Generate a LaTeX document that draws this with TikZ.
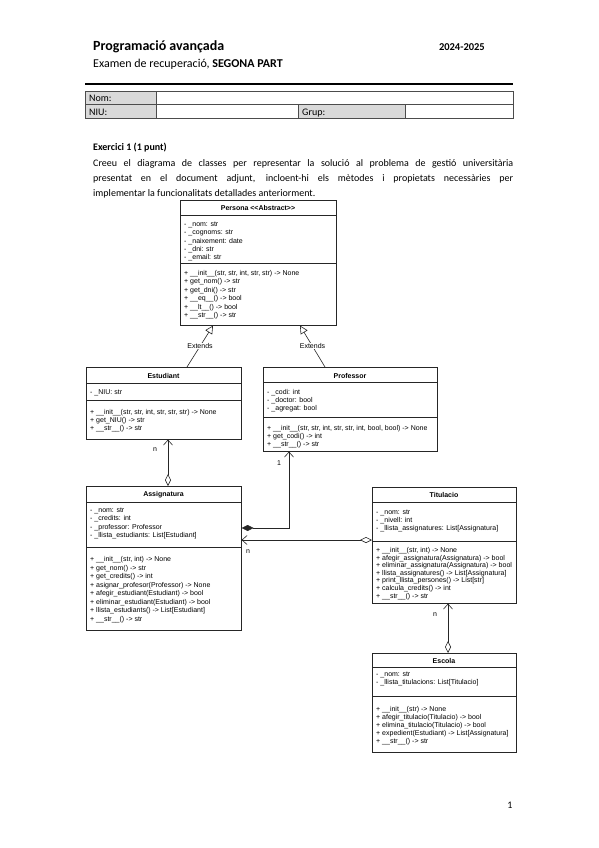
\documentclass[tikz,border=0pt]{standalone}
\usepackage{fontspec}
\setmainfont{Carlito}
\newfontfamily\umlfamily{Liberation Sans}
\usetikzlibrary{arrows.meta}
\newcommand\umlf{\umlfamily\fontsize{7}{8}\selectfont}
\newcommand\umlrows[5]{%
  \foreach \t [count=\i] in {#5} {\node[row] (#1-\i) at (#2,{#3+#4*(\i-1)}) {\t};}}
\tikzset{
  box/.style={draw=black!85, line width=0.6pt, inner sep=0pt, anchor=north west},
  row/.style={anchor=base west, inner sep=0pt, font=\umlf},
  ttl/.style={anchor=base, inner sep=0pt, font=\umlf\bfseries},
  sepline/.style={draw=black!85, line width=0.6pt},
  conn/.style={draw=black!85, line width=0.6pt},
  ext/.style={conn, -{Triangle[open,length=8pt,width=8pt,line width=0.6pt]}},
  odia/.style={conn, {Diamond[open,length=12pt,width=6pt,line width=0.6pt]}-{Straight Barb[length=5pt,width=9pt,line width=0.6pt]}},
  fdia/.style={conn, {Diamond[length=12pt,width=6pt]}-{Straight Barb[length=5pt,width=9pt,line width=0.6pt]}},
  lbl/.style={inner sep=0.5pt, font=\umlf},
  cell/.style={draw=black!70, line width=0.5pt, inner sep=0pt, anchor=north west},
  celltxt/.style={anchor=base west, inner sep=0pt, font=\fontsize{10}{12}\selectfont},
}
\begin{document}
\begin{tikzpicture}[x=1pt,y=-1pt]
\path[fill=white] (0,0) rectangle (599,848);
\useasboundingbox (0,0) rectangle (599,848);

% header
\node[anchor=base west, inner sep=0pt, font=\fontsize{14}{16}\selectfont\bfseries] (title) at (93,51) {Programació avançada};
\node[anchor=base east, inner sep=0pt, font=\fontsize{10.5}{12}\selectfont\bfseries] (year) at (485,51) {2024-2025};
\node[anchor=base west, inner sep=0pt, font=\fontsize{12}{14}\selectfont] (subtitle) at (93,68) {Examen de recuperació, \textbf{SEGONA PART}};
\draw[line width=2.6pt] (85,84) coordinate (hl1) -- (513,84) coordinate (hl2);

% table
\node[cell, fill=black!15, minimum width=71pt, minimum height=13.5pt] (c11) at (85,91) {};
\node[cell, minimum width=357pt, minimum height=13.5pt] (c12) at (156,91) {};
\node[cell, fill=black!15, minimum width=71pt, minimum height=13.5pt] (c21) at (85,104.5) {};
\node[cell, minimum width=142pt, minimum height=13.5pt] (c22) at (156,104.5) {};
\node[cell, fill=black!15, minimum width=107pt, minimum height=13.5pt] (c23) at (298,104.5) {};
\node[cell, minimum width=108pt, minimum height=13.5pt] (c24) at (405,104.5) {};
\node[celltxt] (tnom) at (89,102) {Nom:};
\node[celltxt] (tniu) at (89,115.5) {NIU:};
\node[celltxt] (tgrup) at (302,115.5) {Grup:};

% exercise text
\node[anchor=base west, inner sep=0pt, font=\fontsize{10}{12}\selectfont\bfseries] (ex) at (93,150) {Exercici 1 (1 punt)};
\node[anchor=base west, inner sep=0pt, text width=420pt, align=justify, font=\fontsize{10}{15}\selectfont] (para) at (93,166)
 {\hyphenpenalty=10000 \exhyphenpenalty=10000 \tolerance=9999
 Creeu el diagrama de classes per representar la solució al problema de gestió universitària\linebreak
 presentat en el document adjunt, incloent-hi els mètodes i propietats necessàries per\linebreak
 implementar la funcionalitats detallades anteriorment.};

% ---------- Persona
\node[box, minimum width=156pt, minimum height=125pt] (persona) at (180,200) {};
\node[ttl] (persona-t) at (258,210) {Persona <\kern0pt<Abstract>\kern0pt>};
\draw[sepline] ([yshift=-15pt]persona.north west) -- ([yshift=-15pt]persona.north east);
\draw[sepline] ([yshift=-63pt]persona.north west) -- ([yshift=-63pt]persona.north east);
\umlrows{pa}{184}{226.5}{8.25}{{- \_nom: str},{- \_cognoms: str},{- \_naixement: date},{- \_dni: str},{- \_email: str}}
\umlrows{pm}{184}{275.5}{8.4}{{+ \_\_init\_\_(str, str, int, str, str) -> None},{+ get\_nom() -> str},{+ get\_dni() -> str},{+ \_\_eq\_\_() -> bool},{+ \_\_lt\_\_() -> bool},{+ \_\_str\_\_() -> str}}

% ---------- Estudiant
\node[box, minimum width=155pt, minimum height=72pt] (estudiant) at (86,367) {};
\node[ttl] (estudiant-t) at (163.5,378.5) {Estudiant};
\draw[sepline] ([yshift=-16pt]estudiant.north west) -- ([yshift=-16pt]estudiant.north east);
\draw[sepline] ([yshift=-33pt]estudiant.north west) -- ([yshift=-33pt]estudiant.north east);
\umlrows{ea}{90}{394.5}{8.2}{{- \_NIU: str}}
\umlrows{em}{90}{414.5}{8.2}{{+ \_\_init\_\_(str, str, int, str, str, str) -> None},{+ get\_NIU() -> str},{+ \_\_str\_\_() -> str}}

% ---------- Professor
\node[box, minimum width=174pt, minimum height=84pt] (professor) at (263,367) {};
\node[ttl] (professor-t) at (350,378) {Professor};
\draw[sepline] ([yshift=-15pt]professor.north west) -- ([yshift=-15pt]professor.north east);
\draw[sepline] ([yshift=-50pt]professor.north west) -- ([yshift=-50pt]professor.north east);
\umlrows{pra}{267}{394.5}{8}{{- \_codi: int},{- \_doctor: bool},{- \_agregat: bool}}
\umlrows{prm}{267}{430.5}{8}{{+ \_\_init\_\_(str, str, int, str, str, int, bool, bool) -> None},{+ get\_codi() -> int},{+ \_\_str\_\_() -> str}}

% ---------- Assignatura
\node[box, minimum width=155pt, minimum height=144pt] (assig) at (86,486) {};
\node[ttl] (assig-t) at (163.5,496.5) {Assignatura};
\draw[sepline] ([yshift=-16pt]assig.north west) -- ([yshift=-16pt]assig.north east);
\draw[sepline] ([yshift=-61pt]assig.north west) -- ([yshift=-61pt]assig.north east);
\umlrows{aa}{90}{512.5}{8.4}{{- \_nom: str},{- \_credits: int},{- \_professor: Professor},{- \_llista\_estudiants: List[Estudiant]}}
\umlrows{am}{90}{561.5}{8.57}{{+ \_\_init\_\_(str, int) -> None},{+ get\_nom() -> str},{+ get\_credits() -> int},{+ asignar\_profesor(Professor) -> None},{+ afegir\_estudiant(Estudiant) -> bool},{+ eliminar\_estudiant(Estudiant) -> bool},{+ llista\_estudiants() -> List[Estudiant]},{+ \_\_str\_\_() -> str}}

% ---------- Titulacio
\node[box, minimum width=144pt, minimum height=116pt] (titul) at (372,487) {};
\node[ttl] (titul-t) at (444,497.5) {Titulacio};
\draw[sepline] ([yshift=-15pt]titul.north west) -- ([yshift=-15pt]titul.north east);
\draw[sepline] ([yshift=-54pt]titul.north west) -- ([yshift=-54pt]titul.north east);
\umlrows{ta}{376}{514.5}{8}{{- \_nom: str},{- \_nivell: int},{- \_llista\_assignatures: List[Assignatura]}}
\umlrows{tm}{376}{552.5}{7.6}{{+ \_\_init\_\_(str, int) -> None},{+ afegir\_assignatura(Assignatura) -> bool},{+ eliminar\_assignatura(Assignatura) -> bool},{+ llista\_assignatures() -> List[Assignatura]},{+ print\_llista\_persones() -> List[str]},{+ calcula\_credits() -> int},{+ \_\_str\_\_() -> str}}

% ---------- Escola
\node[box, minimum width=144pt, minimum height=99pt] (escola) at (372,653) {};
\node[ttl] (escola-t) at (444,663.5) {Escola};
\draw[sepline] ([yshift=-14pt]escola.north west) -- ([yshift=-14pt]escola.north east);
\draw[sepline] ([yshift=-43pt]escola.north west) -- ([yshift=-43pt]escola.north east);
\umlrows{sa}{376}{676.5}{8}{{- \_nom: str},{- \_llista\_titulacions: List[Titulacio]}}
\umlrows{sm}{376}{711.5}{8}{{+ \_\_init\_\_(str) -> None},{+ afegir\_titulacio(Titulacio) -> bool},{+ elimina\_titulacio(Titulacio) -> bool},{+ expedient(Estudiant) -> List[Assignatura]},{+ \_\_str\_\_() -> str}}

% ---------- connectors
\draw[ext] ([xshift=101pt]estudiant.north west) -- node[lbl, fill=white] (ext1) {Extends} ([xshift=33pt]persona.south west);
\draw[ext] ([xshift=62pt]professor.north west) -- node[lbl, fill=white] (ext2) {Extends} ([xshift=120pt]persona.south west);
\draw[odia] ([xshift=82pt]assig.north west) -- ([xshift=82pt]estudiant.south west);
\node[lbl] (n1) at (155,450) {n};
\draw[fdia] ([yshift=-42pt]assig.north east) -| ([xshift=26pt]professor.south west);
\node[lbl] (one) at (279,463) {1};
\draw[odia] ([yshift=-53pt]titul.north west) -- ([yshift=-54pt]assig.north east);
\node[lbl] (n2) at (248,552) {n};
\draw[odia] ([xshift=76pt]escola.north west) -- ([xshift=76pt]titul.south west);
\node[lbl] (n3) at (435,615) {n};

% page number
\node[anchor=base, inner sep=0pt, font=\fontsize{10}{12}\selectfont] (pnum) at (510,808) {1};
\end{tikzpicture}
\end{document}
